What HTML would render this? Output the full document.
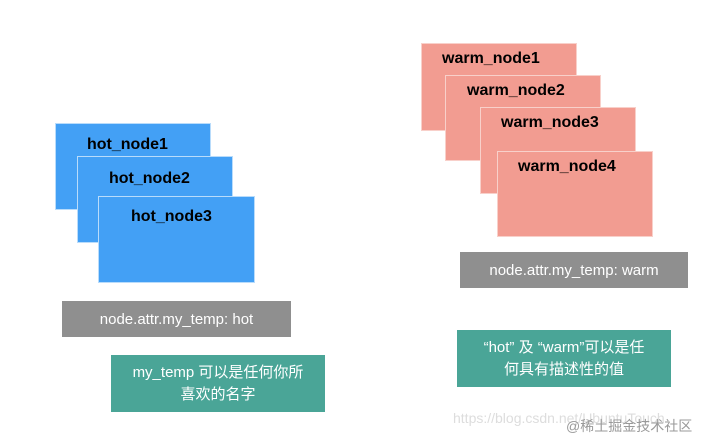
<!DOCTYPE html>
<html><head><meta charset="utf-8"><style>
body{margin:0;width:703px;height:441px;background:#fff;position:relative;overflow:hidden;font-family:"Liberation Sans","Noto Sans CJK SC",sans-serif;}
.b{position:absolute;box-sizing:border-box;}
.blue{background:#43a0f5;border:1px solid #b9dcfb;}
.red{background:#f29c91;border:1px solid #f8d0ca;}
.t{position:absolute;font-weight:bold;font-size:16px;color:#000;white-space:nowrap;}
.g{background:#8f8f8f;color:#fff;font-size:15px;display:flex;align-items:center;justify-content:center;}
.tl{background:#4aa597;color:#fff;font-size:15px;display:flex;align-items:center;justify-content:center;text-align:center;line-height:22px;}
</style></head><body>
<div class="b blue" style="left:55px;top:123px;width:156px;height:87px"></div>
<div class="b blue" style="left:77px;top:156px;width:156px;height:87px"></div>
<div class="b blue" style="left:98px;top:196px;width:157px;height:87px"></div>
<div class="t" style="left:87px;top:136px">hot_node1</div>
<div class="t" style="left:109px;top:170px">hot_node2</div>
<div class="t" style="left:131px;top:208px">hot_node3</div>
<div class="b g" style="left:62px;top:301px;width:229px;height:36px">node.attr.my_temp: hot</div>
<div class="b tl" style="left:111px;top:355px;width:214px;height:57px">my_temp 可以是任何你所<br>喜欢的名字</div>

<div class="b red" style="left:421px;top:43px;width:156px;height:88px"></div>
<div class="b red" style="left:445px;top:75px;width:156px;height:86px"></div>
<div class="b red" style="left:480px;top:107px;width:156px;height:87px"></div>
<div class="b red" style="left:497px;top:151px;width:156px;height:86px"></div>
<div class="t" style="left:442px;top:50px">warm_node1</div>
<div class="t" style="left:467px;top:82px">warm_node2</div>
<div class="t" style="left:501px;top:114px">warm_node3</div>
<div class="t" style="left:518px;top:158px">warm_node4</div>
<div class="b g" style="left:460px;top:252px;width:228px;height:36px">node.attr.my_temp: warm</div>
<div class="b tl" style="left:457px;top:330px;width:214px;height:57px">“hot” 及 “warm”可以是任<br>何具有描述性的值</div>
<div style="position:absolute;left:453px;top:410px;font-size:14px;color:#ddd;white-space:nowrap">https://blog.csdn.net/UbuntuTouch</div>
<div style="position:absolute;left:566px;top:416px;font-size:14px;color:#999;white-space:nowrap">@稀土掘金技术社区</div>
</body></html>
